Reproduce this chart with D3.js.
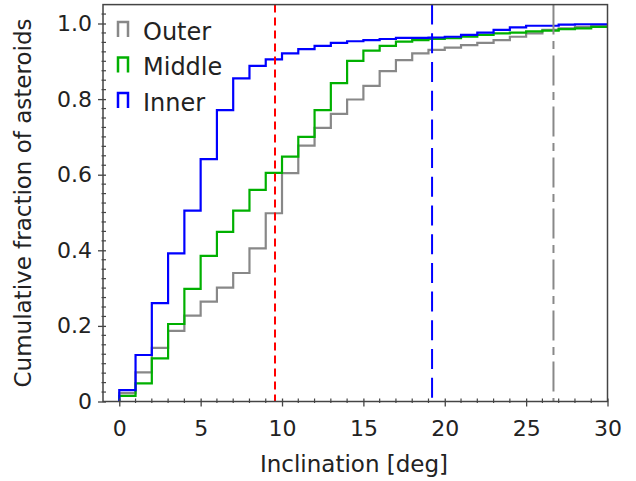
<!DOCTYPE html>
<html>
<head>
<meta charset="utf-8">
<script src="https://cdn.jsdelivr.net/npm/d3@7"></script>
<style>
  body { margin: 0; background: #fff; }
  text { font-family: "DejaVu Sans", sans-serif; fill: #222; }
</style>
</head>
<body>
<div id="chart"></div>
<script>
const width = 636;
const height = 481;

// cumulative fraction per 1-deg inclination bin (bin k covers k..k+1 deg)
const binStarts = d3.range(0, 30);
const outer = [0.022, 0.077, 0.142, 0.187, 0.227, 0.264, 0.301, 0.340, 0.405, 0.498,
  0.604, 0.677, 0.724, 0.761, 0.799, 0.835, 0.874, 0.903, 0.921, 0.930,
  0.936, 0.943, 0.949, 0.956, 0.965, 0.974, 0.983, 0.987, 0.991, 0.996];
const middle = [0.015, 0.048, 0.114, 0.205, 0.298, 0.385, 0.449, 0.505, 0.560, 0.605,
  0.648, 0.700, 0.771, 0.842, 0.901, 0.928, 0.941, 0.952, 0.956, 0.959,
  0.961, 0.965, 0.970, 0.974, 0.976, 0.979, 0.981, 0.985, 0.987, 0.991];
const inner = [0.030, 0.123, 0.260, 0.392, 0.505, 0.641, 0.771, 0.855, 0.888, 0.905,
  0.921, 0.932, 0.941, 0.949, 0.953, 0.956, 0.959, 0.962, 0.962, 0.963,
  0.965, 0.970, 0.976, 0.983, 0.990, 0.994, 0.994, 0.997, 0.998, 0.998];

const seriesNames = ['Outer', 'Middle', 'Inner'];
const seriesColors = ['#888888', '#00b000', '#0000ff'];

// vertical reference lines (deg)
const refLines = [
  { x: 9.57, color: '#ff0000', dash: '8,5' },
  { x: 19.22, color: '#0000ff', dash: '20,8.7' },
  { x: 26.68, color: '#888888', dash: '30,6.5,8,6.5' }
];

const xTicks = [0, 5, 10, 15, 20, 25, 30];
const yTicks = [0, 0.2, 0.4, 0.6, 0.8, 1.0];

const x = d3.scaleLinear().domain([-1, 30]).range([103, 607.5]);
const y = d3.scaleLinear().domain([0, 1.05]).range([401.5, 4.6]);

const svg = d3
  .select('#chart')
  .append('svg')
  .attr('width', width)
  .attr('height', height);

// clip to plot area
svg.append('clipPath').attr('id', 'plot-clip')
  .append('rect')
  .attr('x', x(-1)).attr('y', y(1.05))
  .attr('width', x(30) - x(-1)).attr('height', y(0) - y(1.05));

const plot = svg.append('g').attr('clip-path', 'url(#plot-clip)');

const line = d3.line()
  .x((d) => x(d[0]))
  .y((d) => y(d[1]))
  .curve(d3.curveStepAfter);

function stepPoints(values) {
  const pts = [[0, 0]];
  binStarts.forEach((b, i) => pts.push([b, values[i]]));
  pts.push([30, values[values.length - 1]]);
  return pts;
}

[outer, middle, inner].forEach((vals, i) => {
  plot.append('path')
    .attr('d', line(stepPoints(vals)))
    .attr('fill', 'none')
    .attr('stroke', seriesColors[i])
    .attr('stroke-width', 2.2)
    .attr('stroke-linejoin', 'miter');
});

refLines.forEach((r) => {
  plot.append('line')
    .attr('x1', x(r.x)).attr('x2', x(r.x))
    .attr('y1', y(1.05)).attr('y2', y(0))
    .attr('stroke', r.color)
    .attr('stroke-width', 2)
    .attr('stroke-dasharray', r.dash);
});

// frame
svg.append('rect')
  .attr('x', x(-1)).attr('y', y(1.05))
  .attr('width', x(30) - x(-1)).attr('height', y(0) - y(1.05))
  .attr('fill', 'none')
  .attr('stroke', '#444')
  .attr('stroke-width', 1.5);

// x axis
const xAxis = svg.append('g').attr('transform', `translate(0,${y(0)})`);
xAxis.call(d3.axisBottom(x).tickValues(xTicks).tickSize(5).tickPadding(14).tickFormat(d3.format('d')));
xAxis.select('.domain').remove();
xAxis.selectAll('.tick line').attr('y1', -3).attr('stroke', '#444').attr('stroke-width', 1.3);
xAxis.selectAll('.tick text').attr('font-size', 22).attr('fill', '#222');
xAxis.selectAll('.minor')
  .data(d3.range(0, 31).filter((v) => v % 5 !== 0))
  .enter().append('line')
  .attr('x1', (d) => x(d)).attr('x2', (d) => x(d))
  .attr('y1', -3).attr('y2', 1.5)
  .attr('stroke', '#444').attr('stroke-width', 1.2);

// y axis
const yAxis = svg.append('g').attr('transform', `translate(${x(-1)},0)`);
yAxis.call(d3.axisLeft(y).tickValues(yTicks).tickSize(5).tickPadding(6)
  .tickFormat((d) => (d === 0 ? '0' : d3.format('.1f')(d))));
yAxis.select('.domain').remove();
yAxis.selectAll('.tick line').attr('x1', 3).attr('stroke', '#444').attr('stroke-width', 1.3);
yAxis.selectAll('.tick text').attr('font-size', 22).attr('fill', '#222');
yAxis.selectAll('.minor')
  .data(d3.range(0, 42).map((i) => i * 0.025).filter((v, i) => i % 8 !== 0))
  .enter().append('line')
  .attr('x1', -1.5).attr('x2', 3)
  .attr('y1', (d) => y(d)).attr('y2', (d) => y(d))
  .attr('stroke', '#444').attr('stroke-width', 1.2);

// axis labels
svg.append('text')
  .attr('x', 354).attr('y', 472)
  .attr('text-anchor', 'middle')
  .attr('font-size', 23)
  .text('Inclination [deg]');

svg.append('text')
  .attr('transform', 'translate(31,203) rotate(-90)')
  .attr('text-anchor', 'middle')
  .attr('font-size', 23)
  .text('Cumulative fraction of asteroids');

// legend
const legend = svg.append('g');
seriesNames.forEach((name, i) => {
  const top = 22 + i * 35.5;
  legend.append('path')
    .attr('d', `M118,${top + 15}V${top}H128V${top + 15}`)
    .attr('fill', 'none')
    .attr('stroke', seriesColors[i])
    .attr('stroke-width', 2.5);
  legend.append('text')
    .attr('x', 143).attr('y', top + 17.5)
    .attr('font-size', 24)
    .text(name);
});
</script>
</body>
</html>
